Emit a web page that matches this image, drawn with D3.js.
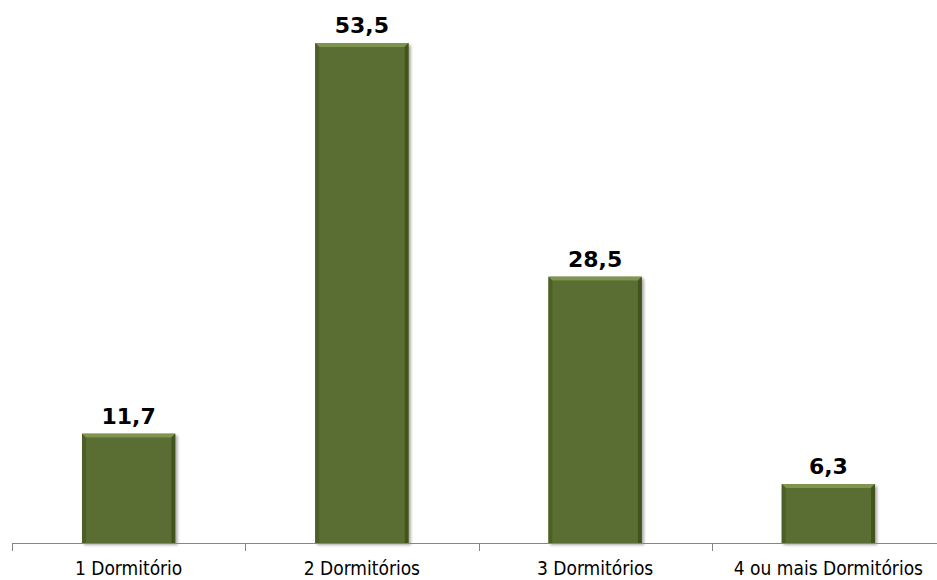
<!DOCTYPE html>
<html><head><meta charset="utf-8">
<script src="https://cdn.jsdelivr.net/npm/d3@7"></script>
<style>html,body{margin:0;padding:0;background:#fff;}svg{display:block;}</style>
</head><body>
<svg id="chart" width="937" height="580"></svg>
<script>
const categories = ["1 Dormitório", "2 Dormitórios", "3 Dormitórios", "4 ou mais Dormitórios"];
const values = [11.7, 53.5, 28.5, 6.3];
const valueLabels = ["11,7", "53,5", "28,5", "6,3"];

const svg = d3.select("#chart");
const x = d3.scaleBand().domain(categories).range([12, 945]).paddingInner(0.6).paddingOuter(0.3);
const y = d3.scaleLinear().domain([0, 53.5]).range([543, 43]);

const defs = svg.append("defs");
const f = defs.append("filter").attr("id","sh").attr("x","-10%").attr("y","-10%").attr("width","130%").attr("height","130%");
f.append("feGaussianBlur").attr("in","SourceAlpha").attr("stdDeviation",1.5).attr("result","b");
f.append("feOffset").attr("in","b").attr("dx",1.5).attr("dy",1.5).attr("result","o");
f.append("feComponentTransfer").attr("in","o").attr("result","o2").append("feFuncA").attr("type","linear").attr("slope",0.35);
const m = f.append("feMerge"); m.append("feMergeNode").attr("in","o2"); m.append("feMergeNode").attr("in","SourceGraphic");

const bars = svg.append("g").selectAll("g").data(categories).join("g").attr("filter","url(#sh)");
const bv = 4;
bars.each(function(c, i) {
  const g = d3.select(this);
  const x0 = x(c), x1 = x(c) + x.bandwidth(), y0 = y(values[i]), y1 = y(0);
  g.append("rect").attr("x", x0).attr("y", y0).attr("width", x1 - x0).attr("height", y1 - y0).attr("fill", "#586b2e");
  g.append("polygon").attr("points", [[x0,y0],[x1,y0],[x1-bv,y0+bv],[x0+bv,y0+bv]].join(" ")).attr("fill", "#7f9450");
  g.append("polygon").attr("points", [[x0,y0],[x0+bv,y0+bv],[x0+bv,y1],[x0,y1]].join(" ")).attr("fill", "#4c5e25");
  g.append("polygon").attr("points", [[x1,y0],[x1-bv,y0+bv],[x1-bv,y1],[x1,y1]].join(" ")).attr("fill", "#43531f");
  g.append("rect").attr("x", x0+bv).attr("y", y0+bv).attr("width", x1-x0-2*bv).attr("height", y1-y0-bv).attr("fill", "#5a6d30");
});

svg.append("g").selectAll("text").data(categories).join("text")
  .attr("x", c => x(c) + x.bandwidth()/2)
  .attr("y", (c, i) => y(values[i]) - 10)
  .attr("text-anchor", "middle")
  .attr("font-family", "DejaVu Sans, Verdana, sans-serif")
  .attr("font-weight", "bold").attr("font-size", 22).attr("fill", "#000")
  .text((c, i) => valueLabels[i]);

const xAxis = d3.axisBottom(x).tickSizeInner(0).tickSizeOuter(0).tickPadding(0);
const ax = svg.append("g").attr("transform", "translate(0,543)").call(xAxis);
ax.select(".domain").attr("stroke", "#868686").attr("d", "M12.5,0.5H937");
ax.selectAll(".tick text")
  .attr("font-family", "'DejaVu Sans Condensed', 'DejaVu Sans', Tahoma, sans-serif")
  .attr("font-stretch", "condensed")
  .attr("font-size", 19).attr("fill", "#000")
  .attr("y", 31.5).attr("dy", null);
const step = x.step();
const tickXs = d3.range(5).map(k => 12 + k * step);
svg.append("g").selectAll("line").data(tickXs).join("line")
  .attr("x1", d => Math.round(d) + 0.5).attr("x2", d => Math.round(d) + 0.5)
  .attr("y1", 543).attr("y2", 551).attr("stroke", "#868686");
</script>
</body></html>
